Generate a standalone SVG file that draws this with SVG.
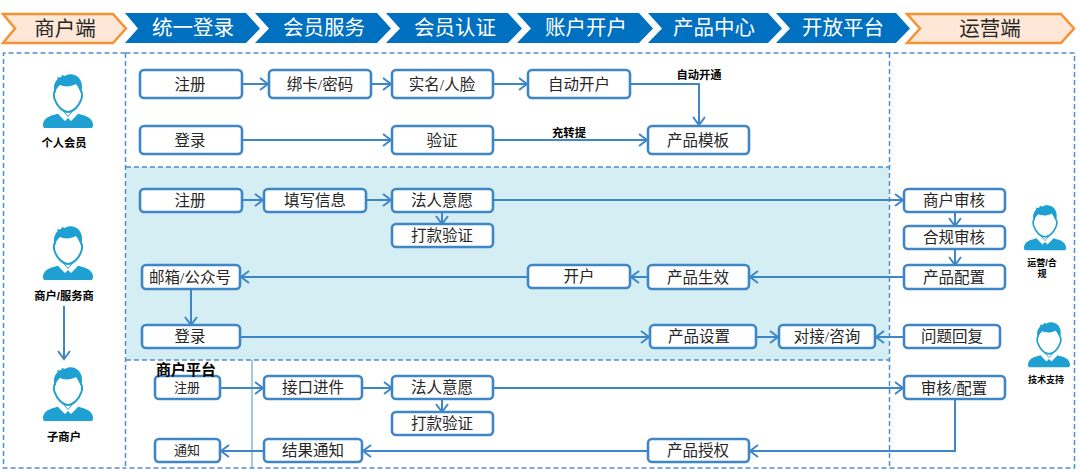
<svg xmlns="http://www.w3.org/2000/svg" width="1080" height="473" viewBox="0 0 1080 473">
<style>
text{font-family:"Liberation Serif","Noto Sans CJK SC",serif;text-anchor:middle;fill:#262626}
.hb{fill:#0070c0}
.ho{fill:#fee7d6;stroke:#f79234;stroke-width:2.5}
.ht{font-size:20.500px;fill:#fff}
.ht2{font-size:20.500px}
.n{fill:#fff;stroke:#3f86c6;stroke-width:2.6}
.nt{font-size:15.500px}
.ns{font-size:13px}
.lb{font-family:"Liberation Sans","Noto Sans CJK SC",sans-serif;font-weight:700;font-size:11.300px;fill:#000}
.c{fill:none;stroke:#3f86c6;stroke-width:2;marker-end:url(#a)}
.d{fill:none;stroke:#4d8fcb;stroke-width:1.5;stroke-dasharray:5 3}
.i{fill:#1fa0d2}
</style>
<defs>
<marker id="a" markerUnits="userSpaceOnUse" markerWidth="12" markerHeight="14" refX="10" refY="7" orient="auto"><path d="M2 1L10 7L2 13" fill="none" stroke="#3f86c6" stroke-width="2"/></marker>
<g id="p">
<path class="i" d="M0 50C1 44 6 42 14 40L21 37L25 42L25 54H2C0 54 0 52 0 50ZM50 50C49 44 44 42 36 40L29 37L25 42L25 54H48C50 54 50 52 50 50Z"/>
<path d="M18 35L25 43L32 35L35 40L28 47L25 44L22 47L15 40Z" fill="#fff"/>
<path d="M12 17C11 9 15 4 22 3C26 2 33 4 38 17C40 19 39 24 38 26C36 32 30 38 25 38C20 38 14 32 12 26C11 24 10 19 12 17Z" fill="#fff" stroke="#1fa0d2" stroke-width="2"/>
<path class="i" d="M12 19C10 13 12 9 15 6L14 3L18 4L19 1L22 2C26 -1 32 0 35 3C39 7 40 12 38 19C37 15 35 13 33 10C28 13 21 13 17 11C15 13 13 15 12 19Z"/>
</g>
</defs>
<rect width="1080" height="473" fill="#fff"/>
<g id="panels">
<rect x="126" y="167" width="763" height="193" fill="#d5eef4"/>
<path class="d" d="M125.500 53H3.500V468H125.500"/>
<path class="d" d="M125.500 53V468"/>
<path class="d" d="M125.500 53H1074.500V468H125.500"/>
<path class="d" d="M889.500 53V468M126 167H889M126 360H889"/>
<path d="M252 360V468" fill="none" stroke="#4d8fcb" stroke-width="1"/>
</g>
<g id="header">
<g id="h1"><path class="ho" d="M3 14H113L126 28.500L113 43H3L15 28.500Z"/><text class="ht2" x="65" y="36">商户端</text></g>
<g id="h2"><path class="hb" d="M125 13H246L260 28.500L246 43H125L138 28.500Z"/><text class="ht" x="193" y="35">统一登录</text></g>
<g id="h3"><path class="hb" d="M255 13H377L391 28.500L377 43H255L269 28.500Z"/><text class="ht" x="324" y="35">会员服务</text></g>
<g id="h4"><path class="hb" d="M386 13H508L522 28.500L508 43H386L400 28.500Z"/><text class="ht" x="455" y="35">会员认证</text></g>
<g id="h5"><path class="hb" d="M517 13H639L653 28.500L639 43H517L531 28.500Z"/><text class="ht" x="586" y="35">账户开户</text></g>
<g id="h6"><path class="hb" d="M648 13H768L782 28.500L768 43H648L662 28.500Z"/><text class="ht" x="714" y="35">产品中心</text></g>
<g id="h7"><path class="hb" d="M776 13H896L910 28.500L896 43H776L790 28.500Z"/><text class="ht" x="843" y="35">开放平台</text></g>
<g id="h8"><path class="ho" d="M907 14H1061L1074 28.500L1061 43H907L920 28.500Z"/><text class="ht2" x="990" y="36">运营端</text></g>
</g>
<g id="connectors">
<path class="c" d="M242 84H268"/>
<path class="c" d="M371 84H391"/>
<path class="c" d="M493 84H527"/>
<path class="c" d="M630 84H699V125"/>
<path class="c" d="M242 140H391"/>
<path class="c" d="M493 140H647"/>
<path class="c" d="M242 200H263"/>
<path class="c" d="M366 200H391"/>
<path class="c" d="M442 212V224"/>
<path class="c" d="M493 200H903"/>
<path class="c" d="M955 212V226"/>
<path class="c" d="M955 249V265"/>
<path class="c" d="M904 277H750"/>
<path class="c" d="M648 277H631"/>
<path class="c" d="M528 277H241"/>
<path class="c" d="M191 289V325"/>
<path class="c" d="M240 337H649"/>
<path class="c" d="M756 337H778"/>
<path class="c" d="M904 337H876"/>
<path class="c" d="M220 388H263"/>
<path class="c" d="M362 388H392"/>
<path class="c" d="M442 399V412"/>
<path class="c" d="M493 388H903"/>
<path class="c" d="M955 399V451H750"/>
<path class="c" d="M648 451H363"/>
<path class="c" d="M264 451H221"/>
<path class="c" d="M64 306V359"/>
</g>
<g id="n1"><rect class="n" x="140" y="70" width="102" height="28" rx="4"/><text class="nt" x="190" y="90">注册</text></g>
<g id="n2"><rect class="n" x="269" y="70" width="102" height="28" rx="4"/><text class="nt" x="320" y="90">绑卡/密码</text></g>
<g id="n3"><rect class="n" x="392" y="70" width="101" height="28" rx="4"/><text class="nt" x="442" y="90">实名/人脸</text></g>
<g id="n4"><rect class="n" x="528" y="70" width="102" height="28" rx="4"/><text class="nt" x="579" y="90">自动开户</text></g>
<g id="n5"><rect class="n" x="140" y="126" width="102" height="28" rx="4"/><text class="nt" x="190" y="146">登录</text></g>
<g id="n6"><rect class="n" x="392" y="126" width="101" height="28" rx="4"/><text class="nt" x="442" y="146">验证</text></g>
<g id="n7"><rect class="n" x="648" y="126" width="101" height="28" rx="4"/><text class="nt" x="698" y="146">产品模板</text></g>
<g id="n8"><rect class="n" x="140" y="189" width="102" height="23" rx="4"/><text class="nt" x="190" y="206">注册</text></g>
<g id="n9"><rect class="n" x="264" y="189" width="102" height="23" rx="4"/><text class="nt" x="315" y="206">填写信息</text></g>
<g id="n10"><rect class="n" x="392" y="189" width="101" height="23" rx="4"/><text class="nt" x="442" y="206">法人意愿</text></g>
<g id="n11"><rect class="n" x="392" y="224" width="101" height="23" rx="4"/><text class="nt" x="442" y="241">打款验证</text></g>
<g id="n12"><rect class="n" x="904" y="189" width="101" height="23" rx="4"/><text class="nt" x="954" y="206">商户审核</text></g>
<g id="n13"><rect class="n" x="904" y="226" width="101" height="23" rx="4"/><text class="nt" x="954" y="243">合规审核</text></g>
<g id="n14"><rect class="n" x="904" y="265" width="101" height="24" rx="4"/><text class="nt" x="954" y="283">产品配置</text></g>
<g id="n15"><rect class="n" x="528" y="265" width="102" height="23" rx="4"/><text class="nt" x="579" y="282">开户</text></g>
<g id="n16"><rect class="n" x="648" y="265" width="101" height="24" rx="4"/><text class="nt" x="698" y="283">产品生效</text></g>
<g id="n17"><rect class="n" x="142" y="265" width="98" height="24" rx="4"/><text class="nt" x="190" y="283">邮箱/公众号</text></g>
<g id="n18"><rect class="n" x="142" y="325" width="98" height="23" rx="4"/><text class="nt" x="190" y="342">登录</text></g>
<g id="n19"><rect class="n" x="650" y="325" width="106" height="23" rx="4"/><text class="nt" x="699" y="342">产品设置</text></g>
<g id="n20"><rect class="n" x="779" y="325" width="96" height="23" rx="4"/><text class="nt" x="827" y="342">对接/咨询</text></g>
<g id="n21"><rect class="n" x="904" y="325" width="96" height="23" rx="4"/><text class="nt" x="952" y="342">问题回复</text></g>
<g id="n22"><rect class="n" x="155" y="376" width="65" height="23" rx="4"/><text class="ns" x="187" y="392">注册</text></g>
<g id="n23"><rect class="n" x="264" y="376" width="98" height="23" rx="4"/><text class="nt" x="313" y="393">接口进件</text></g>
<g id="n24"><rect class="n" x="392" y="376" width="101" height="23" rx="4"/><text class="nt" x="442" y="393">法人意愿</text></g>
<g id="n25"><rect class="n" x="392" y="412" width="101" height="23" rx="4"/><text class="nt" x="442" y="429">打款验证</text></g>
<g id="n26"><rect class="n" x="904" y="376" width="101" height="23" rx="4"/><text class="nt" x="954" y="394">审核/配置</text></g>
<g id="n27"><rect class="n" x="155" y="439" width="65" height="23" rx="4"/><text class="ns" x="187" y="455">通知</text></g>
<g id="n28"><rect class="n" x="264" y="439" width="98" height="23" rx="4"/><text class="nt" x="313" y="456">结果通知</text></g>
<g id="n29"><rect class="n" x="648" y="439" width="101" height="23" rx="4"/><text class="nt" x="698" y="456">产品授权</text></g>
<g id="actor1"><use href="#p" x="43" y="74"/><text class="lb" x="64" y="147">个人会员</text></g>
<g id="actor2"><use href="#p" x="43" y="226"/><text class="lb" x="64" y="300">商户/服务商</text></g>
<g id="actor3"><use href="#p" x="43" y="367"/><text class="lb" x="64" y="441">子商户</text></g>
<g id="actor4"><use href="#p" transform="translate(1024 205) scale(.84)"/><text class="lb" style="font-size:9px" x="1042" y="266">运营/合</text><text class="lb" style="font-size:9px" x="1042" y="277">规</text></g>
<g id="actor5"><use href="#p" transform="translate(1028 322) scale(.84)"/><text class="lb" style="font-size:9px" x="1046" y="383">技术支持</text></g>
<g id="labels">
<text class="lb" x="699" y="79">自动开通</text>
<text class="lb" x="569" y="137">充转提</text>
<text class="lb" style="font-size:15px" x="186" y="375">商户平台</text>
</g>
</svg>
